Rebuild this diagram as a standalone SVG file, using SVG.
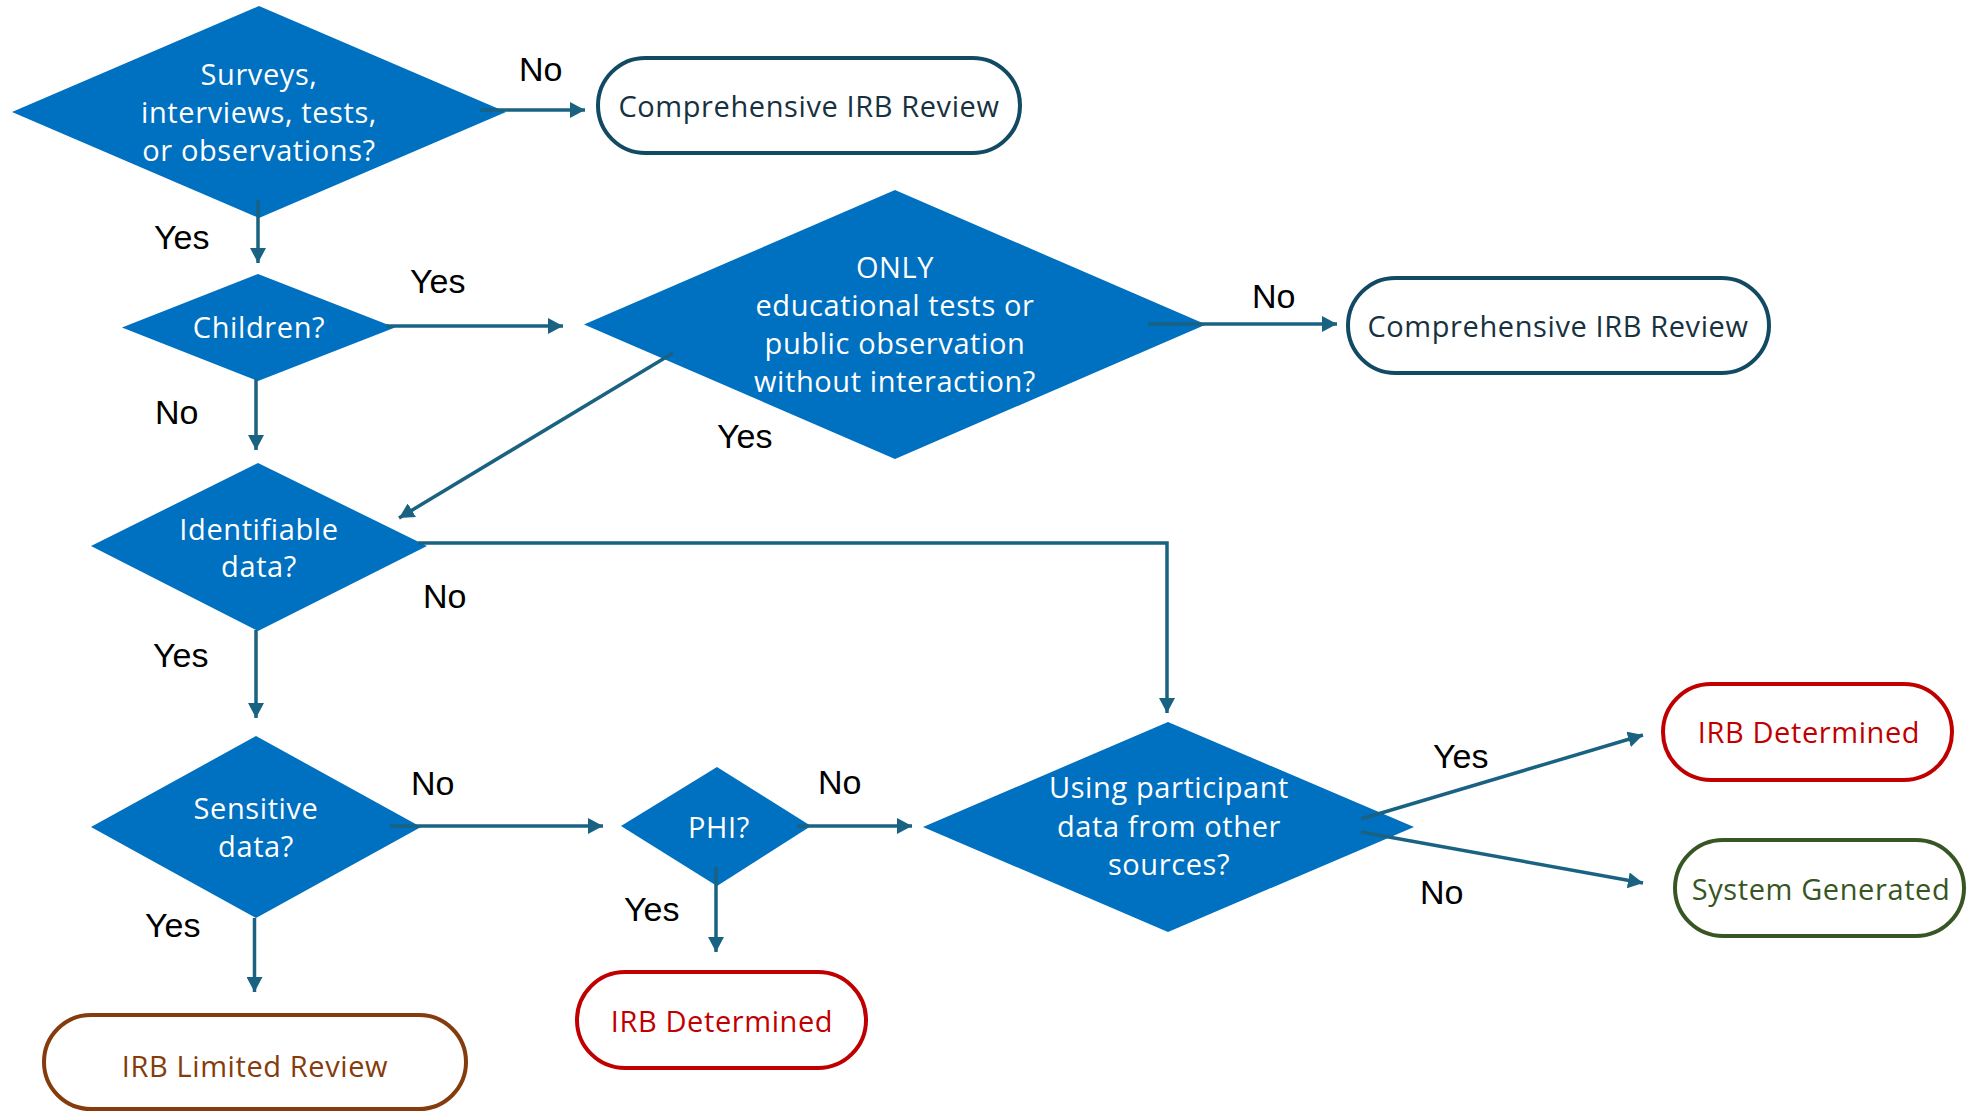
<svg xmlns="http://www.w3.org/2000/svg" width="1977" height="1111" viewBox="0 0 1977 1111">
<style>
.dia{fill:#0070C0;}
.dt{font-family:"Open Sans","Noto Sans",sans-serif;font-size:29px;letter-spacing:0.6px;fill:#FFFFFF;text-anchor:middle;}
.term{fill:#FFFFFF;stroke-width:4;}
.tt{font-family:"Open Sans","Noto Sans",sans-serif;font-size:29px;letter-spacing:0.6px;text-anchor:middle;}
.blue{stroke:#124A63;} .bluet{fill:#17323F;}
.red{stroke:#C00000;} .redt{fill:#C00000;}
.brown{stroke:#843C0C;} .brownt{fill:#843C0C;}
.green{stroke:#375623;} .greent{fill:#375623;}
.conn{fill:none;stroke:#1A6282;stroke-width:3.5;marker-end:url(#arr);}
.lbl{font-family:"Liberation Sans",Arial,sans-serif;font-size:34px;fill:#000000;}
</style>
<defs>
<marker id="arr" viewBox="0 0 10 10" refX="10" refY="5" markerWidth="15" markerHeight="16" markerUnits="userSpaceOnUse" orient="auto" preserveAspectRatio="none">
<path d="M0,0 L10,5 L0,10 z" fill="#1A6282"/>
</marker>
</defs>
<rect width="1977" height="1111" fill="#FFFFFF"/>

<g id="d-surveys">
<polygon class="dia" points="259,6 506,112 259,218 12,112"/>
<text class="dt" x="259" y="85">Surveys,</text>
<text class="dt" x="259" y="123">interviews, tests,</text>
<text class="dt" x="259" y="161">or observations?</text>
</g>
<g id="t-comp1">
<rect class="term blue" x="598" y="58" width="422" height="95" rx="47.5"/>
<text class="tt bluet" x="809" y="117">Comprehensive IRB Review</text>
</g>
<g id="d-children">
<polygon class="dia" points="258,274 395,327.5 258,381 122,327.5"/>
<text class="dt" x="259" y="338">Children?</text>
</g>
<g id="d-only">
<polygon class="dia" points="895,190 1206,324.5 895,459 584,324.5"/>
<text class="dt" x="895" y="278">ONLY</text>
<text class="dt" x="895" y="316">educational tests or</text>
<text class="dt" x="895" y="354">public observation</text>
<text class="dt" x="895" y="392">without interaction?</text>
</g>
<g id="t-comp2">
<rect class="term blue" x="1348" y="278" width="421" height="95" rx="47.5"/>
<text class="tt bluet" x="1558" y="337">Comprehensive IRB Review</text>
</g>
<g id="d-identifiable">
<polygon class="dia" points="258,463 427,546 258,631 91,546"/>
<text class="dt" x="259" y="540">Identifiable</text>
<text class="dt" x="259" y="577">data?</text>
</g>
<g id="d-sensitive">
<polygon class="dia" points="256,736 421,827 256,918 91,827"/>
<text class="dt" x="256" y="819">Sensitive</text>
<text class="dt" x="256" y="857">data?</text>
</g>
<g id="d-phi">
<polygon class="dia" points="717,767 811,826 717,886 621,826"/>
<text class="dt" x="719" y="838">PHI?</text>
</g>
<g id="d-using">
<polygon class="dia" points="1168,722 1414,827 1168,932 923,827"/>
<text class="dt" x="1169" y="798">Using participant</text>
<text class="dt" x="1169" y="837">data from other</text>
<text class="dt" x="1169" y="875">sources?</text>
</g>
<g id="t-limited">
<rect class="term brown" x="44" y="1015" width="422" height="94" rx="47"/>
<text class="tt brownt" x="255" y="1077">IRB Limited Review</text>
</g>
<g id="t-irbdet1">
<rect class="term red" x="577" y="972" width="289" height="96" rx="48"/>
<text class="tt redt" x="722" y="1032">IRB Determined</text>
</g>
<g id="t-irbdet2">
<rect class="term red" x="1663" y="684" width="289" height="96" rx="48"/>
<text class="tt redt" x="1809" y="743">IRB Determined</text>
</g>
<g id="t-system">
<rect class="term green" x="1675" y="840" width="289" height="96" rx="48"/>
<text class="tt greent" x="1821" y="900">System Generated</text>
</g>

<g id="connectors">
<path class="conn" d="M480,110 H585"/>
<path class="conn" d="M258,200 V263"/>
<path class="conn" d="M386,326 H563"/>
<path class="conn" d="M1148,324 H1337"/>
<path class="conn" d="M673,353 L399,518"/>
<path class="conn" d="M256,379 V450"/>
<path class="conn" d="M418,543 H1167 V713"/>
<path class="conn" d="M256,630 V718"/>
<path class="conn" d="M390,826 H603"/>
<path class="conn" d="M254.5,918 V992"/>
<path class="conn" d="M797,826 H912"/>
<path class="conn" d="M716,867 V952"/>
<path class="conn" d="M1361,819 L1643,735"/>
<path class="conn" d="M1361,832 L1643,883"/>
</g>

<g id="labels">
<text class="lbl" x="519" y="81">No</text>
<text class="lbl" x="154" y="249">Yes</text>
<text class="lbl" x="410" y="293">Yes</text>
<text class="lbl" x="155" y="424">No</text>
<text class="lbl" x="1252" y="308">No</text>
<text class="lbl" x="717" y="448">Yes</text>
<text class="lbl" x="423" y="608">No</text>
<text class="lbl" x="153" y="667">Yes</text>
<text class="lbl" x="411" y="795">No</text>
<text class="lbl" x="145" y="937">Yes</text>
<text class="lbl" x="818" y="794">No</text>
<text class="lbl" x="624" y="921">Yes</text>
<text class="lbl" x="1433" y="768">Yes</text>
<text class="lbl" x="1420" y="904">No</text>
</g>
</svg>
